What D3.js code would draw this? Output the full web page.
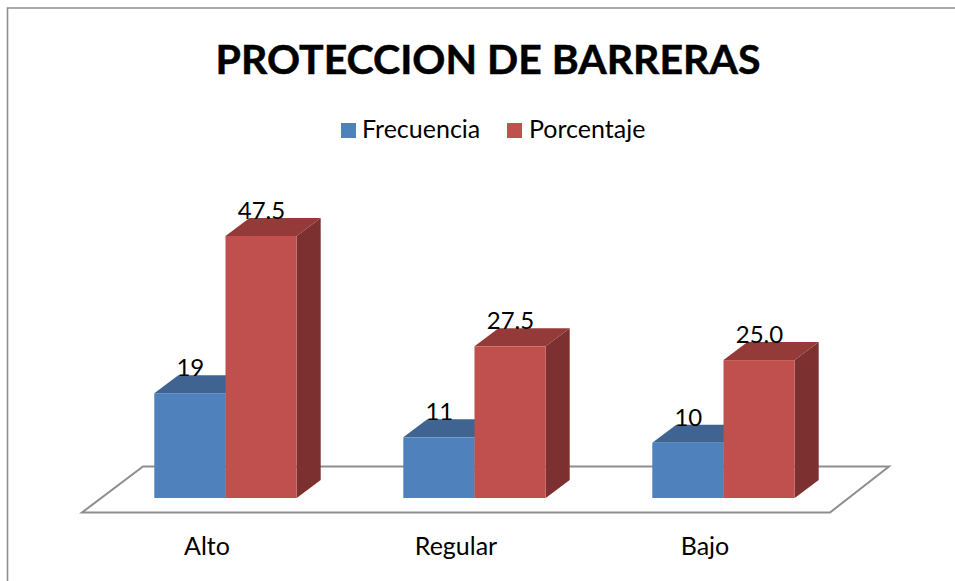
<!DOCTYPE html>
<html>
<head>
<meta charset="utf-8">
<style>
html,body{margin:0;padding:0;background:#fff;}
svg{display:block;}
text{font-family:Lato,"Open Sans",sans-serif;fill:#000;}
</style>
<script src="https://cdn.jsdelivr.net/npm/d3@7"></script>
</head>
<body>
<svg id="chart" width="955" height="581"></svg>
<script>
const chartTitle = "PROTECCION DE BARRERAS";
const categories = ["Alto", "Regular", "Bajo"];
const seriesNames = ["Frecuencia", "Porcentaje"];
const frecuencia = [19, 11, 10];
const porcentaje = [47.5, 27.5, 25.0];
const frecuenciaLabels = ["19", "11", "10"];
const porcentajeLabels = ["47.5", "27.5", "25.0"];
const colors = {Frecuencia: {front: "#4f81bd", top: "#3f6491", side: "#325a8a"},
                Porcentaje: {front: "#c0504d", top: "#943b39", side: "#7c3130"}};

const svg = d3.select("#chart");
const W = 955, H = 581;

// plot geometry
const baseY = 498, depthX = 24, depthY = 18;
const y = d3.scaleLinear().domain([0, 47.5]).range([baseY, 236]);
const x0 = d3.scaleBand().domain(categories).range([101, 848]).paddingInner(0).paddingOuter(0);
const barW = 71.2;
const groupLeft = c => x0(c) + (x0.bandwidth() - 2 * barW) / 2;
const grey = "#8e8e8e";

// frame
svg.append("path").attr("d", d3.line()([[7.5, H], [7.5, 8], [W, 8]]))
  .attr("fill", "none").attr("stroke", grey).attr("stroke-width", 1.6);

// floor
const floor = [[82, 512.5], [830, 512.5], [889, 466.5], [143, 466.5]];
svg.append("path").attr("d", d3.line()(floor) + "Z")
  .attr("fill", "#fff").attr("stroke", grey).attr("stroke-width", 2);

// title
svg.append("text").attr("x", 488).attr("y", 74).attr("text-anchor", "middle")
  .attr("font-weight", 700).attr("font-size", 41)
  .style("stroke", "#000").style("stroke-width", 0.5).text(chartTitle);

// legend
const legendX = [341, 507], legendTextX = [362, 529];
seriesNames.forEach((n, i) => {
  svg.append("rect").attr("x", legendX[i]).attr("y", 123).attr("width", 15).attr("height", 15)
    .attr("fill", colors[n].front);
  svg.append("text").attr("x", legendTextX[i]).attr("y", 138).attr("font-size", 25).text(n);
});

// bars
function bar3d(left, v, c) {
  const top = y(v), right = left + barW;
  const g = svg.append("g");
  g.append("path").attr("fill", c.top)
    .attr("d", d3.line()([[left, top], [left + depthX, top - depthY], [right + depthX, top - depthY], [right, top]]) + "Z");
  g.append("path").attr("fill", c.side)
    .attr("d", d3.line()([[right, top], [right + depthX, top - depthY], [right + depthX, baseY - depthY], [right, baseY]]) + "Z");
  g.append("rect").attr("x", left).attr("y", top).attr("width", barW).attr("height", baseY - top).attr("fill", c.front);
}
categories.forEach((c, i) => {
  const l = groupLeft(c);
  bar3d(l, frecuencia[i], colors.Frecuencia);
  bar3d(l + barW, porcentaje[i], colors.Porcentaje);
});

// value labels
categories.forEach((c, i) => {
  const l = groupLeft(c);
  svg.append("text").attr("x", l + 36).attr("y", y(frecuencia[i]) - 17).attr("text-anchor", "middle")
    .attr("font-size", 24).text(frecuenciaLabels[i]);
  svg.append("text").attr("x", l + barW + 36).attr("y", y(porcentaje[i]) - 17).attr("text-anchor", "middle")
    .attr("font-size", 24).text(porcentajeLabels[i]);
});

// category axis labels
const labelX = d3.scaleOrdinal().domain(categories).range([207, 456, 705]);
categories.forEach(c => {
  svg.append("text").attr("x", labelX(c)).attr("y", 555).attr("text-anchor", "middle")
    .attr("font-size", 25).text(c);
});
</script>
</body>
</html>
